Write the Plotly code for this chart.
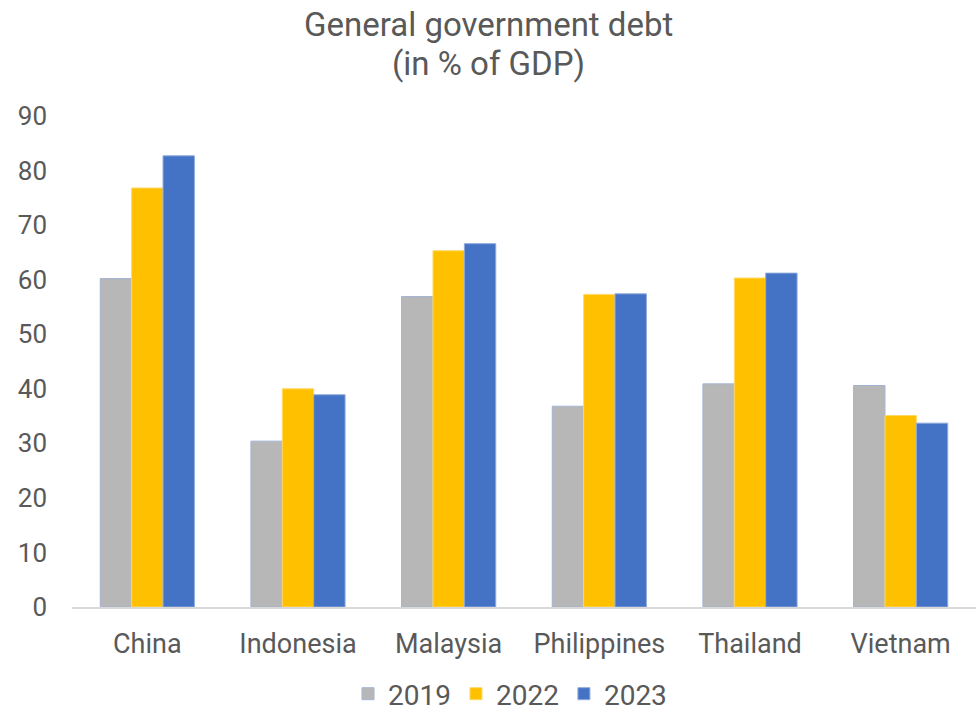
import plotly.graph_objects as go

countries = ["China", "Indonesia", "Malaysia", "Philippines", "Thailand", "Vietnam"]
years = ["2019", "2022", "2023"]
debt_2019 = [60.2, 30.4, 56.9, 36.8, 40.9, 40.6]
debt_2022 = [76.8, 40.0, 65.3, 57.3, 60.3, 35.1]
debt_2023 = [82.7, 38.9, 66.6, 57.4, 61.2, 33.7]
title_lines = ["General government debt", "(in % of GDP)"]

series = [debt_2019, debt_2022, debt_2023]
colors = ["#b7b7b7", "#ffc000", "#4472c4"]
lines = ["#a3b3d3", "#ffd966", "#8faadc"]

FONT = "Roboto"
TXT = "#595959"

fig = go.Figure()
for y, vals, c, lc in zip(years, series, colors, lines):
    fig.add_trace(go.Bar(
        x=countries, y=vals, name=y,
        marker=dict(color=c, line=dict(color=lc, width=1)),
    ))

for txt, ypx in zip(title_lines, [24, 63]):
    fig.add_annotation(
        text=txt, xref="paper", yref="paper", x=(488 - 72) / 904,
        y=1 + (116 - ypx) / 491.5, xanchor="center", yanchor="middle",
        showarrow=False, font=dict(family=FONT, size=33, color=TXT),
    )

fig.update_layout(
    width=976, height=714,
    margin=dict(l=72, r=0, t=116, b=107, autoexpand=False),
    paper_bgcolor="white", plot_bgcolor="white",
    barmode="group", bargap=0.375, bargroupgap=0,
    font=dict(family=FONT, color=TXT, size=26),
    xaxis=dict(
        showline=True, linecolor="#d9d9d9", linewidth=1.5,
        ticks="", tickfont=dict(size=27, color=TXT),
        showgrid=False, ticklabelstandoff=12,
    ),
    yaxis=dict(
        range=[0, 90], dtick=10, showgrid=False, zeroline=False,
        showline=False, ticks="", tickfont=dict(size=26, color=TXT),
        ticklabelstandoff=24,
    ),
    legend=dict(
        orientation="h", x=(510 - 72) / 904, xanchor="center",
        yref="container", y=1 - 694 / 714, yanchor="middle",
        font=dict(size=28, color=TXT), itemwidth=30,
        traceorder="normal",
    ),
)

fig.write_html("out.html")
